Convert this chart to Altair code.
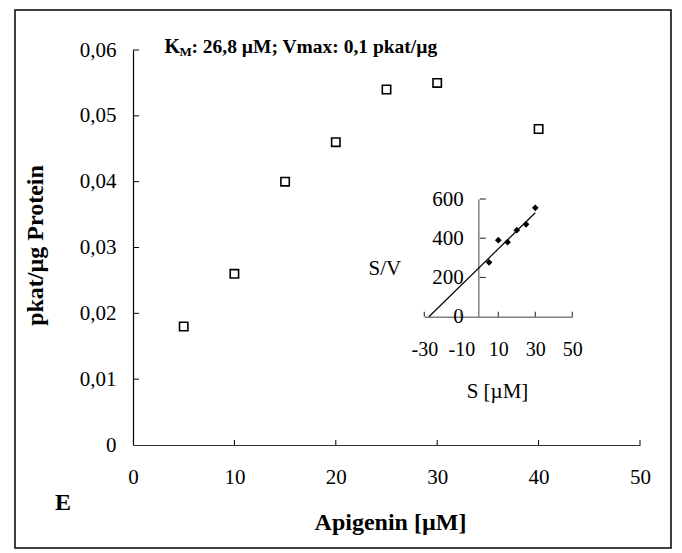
import altair as alt
import pandas as pd

# ---- data ----
apigenin = [5, 10, 15, 20, 25, 30, 40]
activity = [0.018, 0.026, 0.040, 0.046, 0.054, 0.055, 0.048]

inset_s = [5, 10, 15, 20, 25, 30]
inset_sv = [277, 390, 380, 441, 471, 555]
fit_s = [-27.5, 30]
fit_sv = [0, 530]

x_ticks = [0, 10, 20, 30, 40, 50]
y_ticks = [0, 0.01, 0.02, 0.03, 0.04, 0.05, 0.06]
inset_x_ticks = [-30, -10, 10, 30, 50]
inset_y_ticks = [0, 200, 400, 600]

annot_k = ["K"]
annot_sub = ["M"]
annot_rest = [": 26,8 µM; Vmax: 0,1 pkat/µg"]
panel_letter = ["E"]

FONT = "Liberation Serif"
W, H = 656, 538

main_x = alt.Scale(domain=[0, 50], range=[118, 625], nice=False, zero=False)
main_y = alt.Scale(domain=[0, 0.06], range=[435, 40], nice=False, zero=False)
ins_x = alt.Scale(domain=[-30, 50], range=[409.3, 557.3], nice=False, zero=False)
ins_y = alt.Scale(domain=[0, 600], range=[306.7, 189], nice=False, zero=False)

comma_fmt = "datum.value == 0 ? '0' : replace(format(datum.value, '.2f'), '.', ',')"
plain_fmt = "'' + datum.value"

main_df = pd.DataFrame({"S": apigenin, "v": activity})

x_axis = alt.Axis(orient="bottom", offset=-103, values=x_ticks, tickSize=0,
                  labelPadding=21, labelFont=FONT, labelFontSize=21, labelColor="black",
                  labelOverlap=False, labelFlush=False, labelExpr=plain_fmt,
                  domainColor="#333333", domainWidth=1.2, grid=False,
                  title="Apigenin [µM]", titleFont=FONT, titleFontSize=24,
                  titleFontWeight="bold", titleColor="black",
                  titleX=375, titleY=77, titleAlign="center", titleBaseline="middle")
y_axis = alt.Axis(orient="left", offset=-118, values=y_ticks, tickSize=0,
                  labelPadding=17, labelFont=FONT, labelFontSize=21, labelColor="black",
                  labelOverlap=False, labelFlush=False,
                  labelExpr=comma_fmt, domainColor="black", domainWidth=1.2, grid=False,
                  title="pkat/µg Protein", titleFont=FONT, titleFontSize=24,
                  titleFontWeight="bold", titleColor="black", titleAngle=-90,
                  titleX=-98, titleY=235, titleAlign="center", titleBaseline="middle")

points = alt.Chart(main_df).mark_point(
    shape="square", filled=False, color="black", strokeWidth=1.6, size=70, opacity=1
).encode(
    x=alt.X("S:Q", scale=main_x, axis=x_axis),
    y=alt.Y("v:Q", scale=main_y, axis=y_axis),
)

xt_df = pd.DataFrame({"t": x_ticks[1:]})
x_tick_marks = alt.Chart(xt_df).mark_rule(color="black", strokeWidth=1, y2Offset=-5).encode(
    x=alt.X("t:Q", scale=main_x), y=alt.datum(0), y2=alt.datum(0)
)
yt_df = pd.DataFrame({"t": y_ticks[1:]})
y_tick_marks = alt.Chart(yt_df).mark_rule(color="black", strokeWidth=1, x2Offset=6).encode(
    y=alt.Y("t:Q", scale=main_y), x=alt.datum(0), x2=alt.datum(0)
)

k_text = alt.Chart(pd.DataFrame({"t": annot_k})).mark_text(
    font=FONT, fontSize=20, fontWeight="bold", align="left", baseline="middle", color="black"
).encode(x=alt.datum(3.1), y=alt.datum(0.0605), text="t:N")
sub_text = alt.Chart(pd.DataFrame({"t": annot_sub})).mark_text(
    font=FONT, fontSize=13, fontWeight="bold", align="left", baseline="middle", color="black",
    dx=15, dy=5
).encode(x=alt.datum(3.1), y=alt.datum(0.0605), text="t:N")
rest_text = alt.Chart(pd.DataFrame({"t": annot_rest})).mark_text(
    font=FONT, fontSize=19.5, fontWeight="bold", align="left", baseline="middle", color="black",
    dx=27
).encode(x=alt.datum(3.1), y=alt.datum(0.0605), text="t:N")
e_text = alt.Chart(pd.DataFrame({"t": panel_letter})).mark_text(
    font=FONT, fontSize=24, fontWeight="bold", align="center", baseline="middle", color="black"
).encode(x=alt.datum(-6.9), y=alt.datum(-0.0088), text="t:N")

main_layer = alt.layer(points, x_tick_marks, y_tick_marks, k_text, sub_text, rest_text, e_text)

# ---- inset ----
ins_df = pd.DataFrame({"S": inset_s, "SV": inset_sv})
fit_df = pd.DataFrame({"S": fit_s, "SV": fit_sv})

ix_axis = alt.Axis(orient="bottom", offset=-231.3, values=inset_x_ticks, tickSize=0,
                   labelPadding=23, labelFont=FONT, labelFontSize=20, labelColor="black",
                   labelOverlap=False, labelFlush=False, labelExpr=plain_fmt,
                   domainColor="#808080", domainWidth=1.5, grid=False,
                   title="S [µM]", titleFont=FONT, titleFontSize=21, titleFontWeight="normal",
                   titleColor="black", titleX=482, titleY=75, titleAlign="center",
                   titleBaseline="middle")
iy_axis = alt.Axis(orient="left", offset=-463.3, values=inset_y_ticks, tickSize=0,
                   labelPadding=15, labelFont=FONT, labelFontSize=21, labelColor="black",
                   labelOverlap=False, labelFlush=False, labelExpr=plain_fmt,
                   domainColor="#808080", domainWidth=1.5, grid=False,
                   title="S/V", titleFont=FONT, titleFontSize=21, titleFontWeight="normal",
                   titleColor="black", titleAngle=0, titleX=-94, titleY=258,
                   titleAlign="center", titleBaseline="middle")

ins_points = alt.Chart(ins_df).mark_point(
    shape="diamond", filled=True, color="black", size=45, opacity=1
).encode(
    x=alt.X("S:Q", scale=ins_x, axis=ix_axis),
    y=alt.Y("SV:Q", scale=ins_y, axis=iy_axis),
)
fit_line = alt.Chart(fit_df).mark_line(color="black", strokeWidth=1.2).encode(
    x=alt.X("S:Q", scale=ins_x), y=alt.Y("SV:Q", scale=ins_y)
)
ixt = alt.Chart(pd.DataFrame({"t": inset_x_ticks})).mark_rule(
    color="#404040", strokeWidth=1.2, y2Offset=-5
).encode(x=alt.X("t:Q", scale=ins_x), y=alt.datum(0), y2=alt.datum(0))
iyt = alt.Chart(pd.DataFrame({"t": inset_y_ticks[1:]})).mark_rule(
    color="#404040", strokeWidth=1.2, x2Offset=6
).encode(y=alt.Y("t:Q", scale=ins_y), x=alt.datum(0), x2=alt.datum(0))

inset_layer = alt.layer(fit_line, ins_points, ixt, iyt)

chart = alt.layer(main_layer, inset_layer).resolve_scale(
    x="independent", y="independent"
).properties(
    width=W, height=H,
    padding={"left": 15, "top": 10, "right": 11, "bottom": 5},
    background="white",
).configure_view(stroke="black", strokeWidth=1.5)

chart.save("out.html", embed_options={"renderer": "svg", "actions": False})
